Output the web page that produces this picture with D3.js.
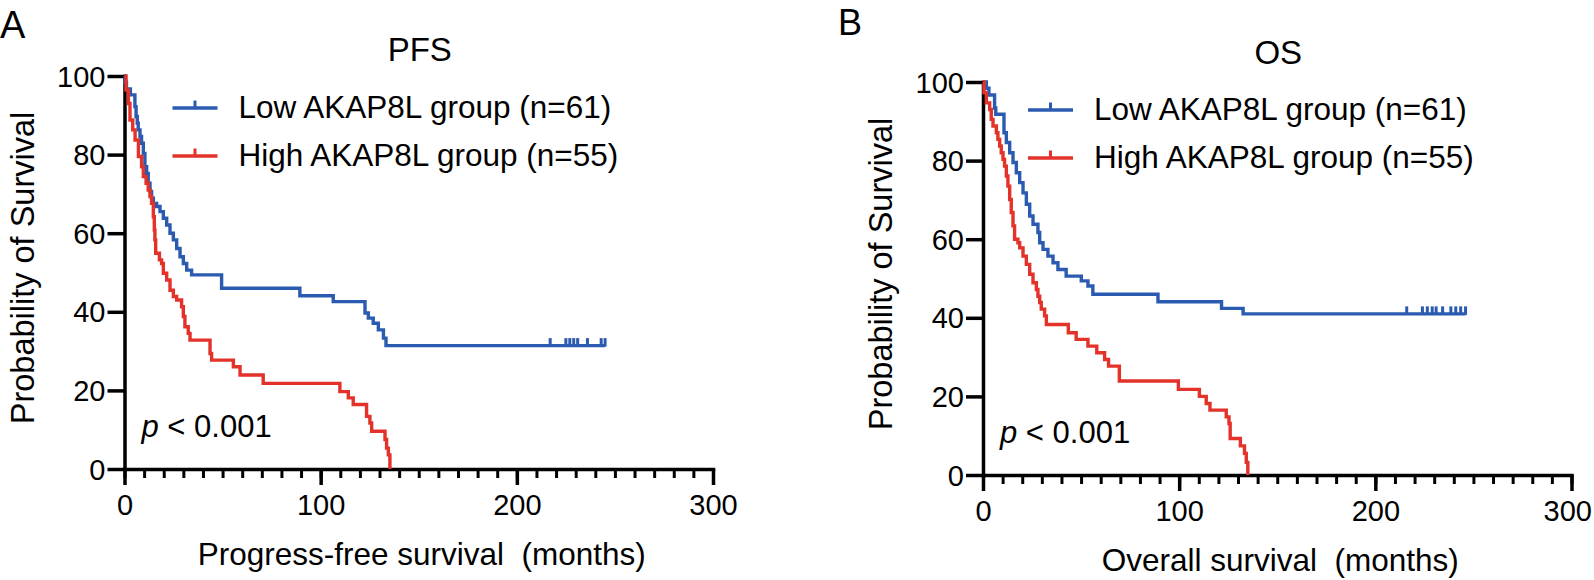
<!DOCTYPE html>
<html><head><meta charset="utf-8">
<script src="https://cdn.jsdelivr.net/npm/d3@7"></script>
<style>
body{margin:0;background:#fff}
svg{display:block}
text{font-family:"Liberation Sans",Arial,Helvetica,sans-serif;fill:#000;white-space:pre}
</style>
</head><body>
<svg id="chart" width="1594" height="580"></svg>
<script>
// ---------- data (months, % survival) ----------
const xTicks = [0, 100, 200, 300];
const yTicks = [0, 20, 40, 60, 80, 100];
const seriesNames = ["Low AKAP8L group (n=61)", "High AKAP8L group (n=55)"];
const pValueText = "< 0.001";

// PFS, low group
const pfsLowTimes = [0, 0.3, 1.0, 3.0, 5.3, 5.9, 6.5, 7.0, 7.9, 8.7, 9.6, 10.4, 11.3, 12.1, 13.0, 13.8, 14.7, 16.4, 18.1, 19.8, 21.5, 23.2, 24.9, 26.6, 28.3, 30.0, 31.7, 34.2, 49.5, 89.4, 106.4, 122.6, 124.3, 126.8, 129.4, 132.0, 133.3];
const pfsLowSurv  = [100, 98.4, 96.7, 95.2, 92.2, 89.7, 88.0, 86.3, 84.6, 82.9, 80.3, 76.9, 75.2, 72.7, 70.6, 68.9, 67.6, 66.8, 65.5, 63.8, 62.1, 60.0, 58.3, 56.1, 54.0, 52.3, 50.6, 49.4, 46.0, 44.1, 42.6, 39.7, 38.4, 37.1, 35.4, 33.3, 31.4];
const pfsLowCensor = [217, 225, 227, 229, 231, 236, 243, 245];

// PFS, high group
const pfsHighTimes = [0, 0.8, 2.0, 2.8, 4.2, 5.4, 7.1, 8.7, 9.6, 11.0, 12.1, 13.0, 13.8, 14.7, 15.2, 15.5, 15.9, 17.8, 18.9, 19.8, 21.5, 23.2, 24.9, 26.6, 29.1, 30.0, 30.8, 32.5, 33.4, 43.6, 44.4, 55.5, 58.9, 70.7, 109.8, 114.1, 116.6, 123.4, 125.1, 126.0, 132.8, 133.6, 134.5, 135.3];
const pfsHighSurv  = [100, 96.4, 93.0, 88.8, 86.3, 83.7, 79.5, 76.9, 74.4, 72.7, 71.0, 69.3, 67.6, 64.2, 60.8, 58.3, 54.9, 53.2, 52.3, 49.8, 48.1, 45.5, 43.9, 43.0, 41.3, 38.8, 36.2, 34.5, 32.8, 29.4, 27.7, 26.0, 23.9, 21.8, 19.7, 18.1, 16.4, 13.4, 11.7, 9.6, 7.5, 5.3, 3.6, 0];
const pfsHighCensor = [];

// OS, low group
const osLowTimes = [0, 1.7, 3.0, 5.9, 6.5, 10.7, 11.9, 13.6, 15.3, 17.0, 18.7, 20.4, 22.1, 23.8, 25.5, 28.0, 28.9, 30.6, 33.1, 35.7, 38.2, 42.4, 50.1, 53.5, 56.0, 89.2, 121.6, 132.6];
const osLowSurv  = [100, 98.4, 96.7, 93.4, 91.8, 87.1, 84.6, 82.0, 79.5, 76.9, 74.4, 71.8, 68.9, 65.9, 63.8, 61.7, 59.1, 57.4, 55.7, 54.0, 52.3, 50.6, 49.4, 48.1, 46.0, 44.1, 42.4, 41.0];
const osLowCensor = [216, 224, 226.5, 229, 231, 234.3, 238.5, 241, 243.5, 246];

// OS, high group
const osHighTimes = [0, 0.5, 1.7, 3.4, 4.2, 5.1, 6.8, 7.6, 8.5, 9.3, 10.2, 11.0, 11.9, 12.7, 13.6, 14.4, 15.3, 16.1, 17.8, 18.7, 20.4, 22.1, 23.8, 25.5, 27.2, 28.0, 28.9, 29.7, 31.4, 32.3, 43.5, 47.5, 53.5, 58.0, 62.0, 64.0, 69.5, 99.6, 110.3, 113.8, 115.7, 124.0, 125.4, 126.0, 131.2, 133.3, 134.2, 135.0];
const osHighSurv  = [100, 97.3, 94.7, 93.0, 90.5, 88.8, 87.1, 85.4, 83.7, 82.0, 80.3, 78.6, 76.1, 73.5, 70.1, 66.8, 63.4, 60.0, 59.1, 57.8, 55.7, 53.6, 51.1, 48.9, 47.2, 45.5, 43.9, 42.2, 40.5, 38.3, 36.2, 34.5, 32.8, 31.1, 29.4, 27.7, 23.9, 21.8, 20.0, 18.2, 16.5, 14.8, 13.1, 9.3, 7.4, 5.5, 3.2, 0];
const osHighCensor = [];

// ---------- drawing ----------
const BLUE = "#2b5bb1", RED = "#e3322a";
const FONT_TICK = 29, FONT_LEG = 31.5, FONT_TITLE = 31.5, FONT_YTITLE = 32.5;
const svg = d3.select("#chart");

function panel(cfg) {
  const g = svg.append("g");
  const x = d3.scaleLinear().domain([0, 300]).range([cfg.x0, cfg.x1]);
  const y = d3.scaleLinear().domain([0, 100]).range([cfg.y0, cfg.y1]);

  // minor x ticks
  const minor = g.append("g").attr("transform", `translate(0,${cfg.y0})`)
    .call(d3.axisBottom(x).tickValues(d3.range(0, 301, 10)).tickSize(9).tickSizeOuter(0).tickFormat(""));
  minor.select(".domain").remove();
  minor.selectAll(".tick line").attr("stroke", "#000").attr("stroke-width", 3);

  // major x axis
  const xa = g.append("g").attr("transform", `translate(0,${cfg.y0})`)
    .call(d3.axisBottom(x).tickValues(xTicks).tickSize(16).tickSizeOuter(0).tickPadding(9));
  xa.select(".domain").attr("stroke", "#000").attr("stroke-width", 3.5).attr("stroke-linecap", "square");
  xa.selectAll(".tick line").attr("stroke", "#000").attr("stroke-width", 3.5);
  xa.selectAll(".tick text").attr("font-size", FONT_TICK).attr("font-family", null);
  xa.attr("font-family", null).attr("font-size", null);
  // keep the last label inside the canvas
  xa.selectAll(".tick text").each(function () {
    const bb = this.getBBox();
    const tr = this.parentNode.getCTM();
    const right = tr.e + bb.x + bb.width;
    if (right > 1592) d3.select(this).attr("x", 1592 - right);
  });

  // y axis
  const ya = g.append("g").attr("transform", `translate(${cfg.x0},0)`)
    .call(d3.axisLeft(y).tickValues(yTicks).tickSize(17).tickSizeOuter(0).tickPadding(2));
  ya.select(".domain").attr("stroke", "#000").attr("stroke-width", 3.5).attr("stroke-linecap", "square");
  ya.selectAll(".tick line").attr("stroke", "#000").attr("stroke-width", 3.5);
  ya.selectAll(".tick text").attr("font-size", FONT_TICK).attr("dy", "0.35em");
  ya.attr("font-family", null).attr("font-size", null);

  // curves
  const line = d3.line().x(d => x(d[0])).y(d => y(d[1])).curve(d3.curveStepAfter);
  cfg.series.forEach(s => {
    const pts = s.times.map((t, i) => [t, s.surv[i]]);
    const end = s.censor.length ? d3.max(s.censor) : s.times[s.times.length - 1];
    if (end > s.times[s.times.length - 1]) pts.push([end, s.surv[s.surv.length - 1]]);
    g.append("path").attr("d", line(pts)).attr("fill", "none")
      .attr("stroke", s.color).attr("stroke-width", 3.4).attr("stroke-linejoin", "miter").attr("stroke-linecap", "butt");
    s.censor.forEach(c => {
      const idx = d3.bisectRight(s.times, c) - 1;
      const v = s.surv[idx];
      g.append("line").attr("x1", x(c)).attr("x2", x(c))
        .attr("y1", y(v) + 1).attr("y2", y(v) - 7.5)
        .attr("stroke", s.color).attr("stroke-width", 3);
    });
  });

  // legend
  cfg.series.forEach((s, i) => {
    const ly = cfg.legY + i * 48;
    g.append("line").attr("x1", cfg.legX).attr("x2", cfg.legX + 45).attr("y1", ly).attr("y2", ly)
      .attr("stroke", s.color).attr("stroke-width", 3.4);
    g.append("line").attr("x1", cfg.legX + 22.5).attr("x2", cfg.legX + 22.5).attr("y1", ly).attr("y2", ly - 7.5)
      .attr("stroke", s.color).attr("stroke-width", 3);
    g.append("text").attr("x", cfg.legX + 66).attr("y", ly + 10).attr("font-size", FONT_LEG).text(s.name);
  });

  // p value
  const pt = g.append("text").attr("x", cfg.x0 + 17).attr("y", cfg.y0 - 32).attr("font-size", 31);
  pt.append("tspan").attr("font-style", "italic").text("p");
  pt.append("tspan").text(" " + pValueText);

  // titles
  g.append("text").attr("x", (cfg.x0 + cfg.x1) / 2 + 1).attr("y", cfg.titleY)
    .attr("text-anchor", "middle").attr("font-size", 33).text(cfg.title);
  g.append("text").attr("x", (cfg.x0 + cfg.x1) / 2 + 3).attr("y", cfg.y0 + 96)
    .attr("text-anchor", "middle").attr("font-size", FONT_TITLE).text(cfg.xLabel);
  g.append("text").attr("transform", `translate(${cfg.x0 - 91},${cfg.y0 - 201}) rotate(-90)`)
    .attr("text-anchor", "middle").attr("font-size", FONT_YTITLE).text("Probability of Survival");
  g.append("text").attr("x", cfg.letterX).attr("y", cfg.letterY).attr("font-size", cfg.letterSize).text(cfg.letter);
}

panel({
  x0: 124.5, x1: 713, y0: 469, y1: 76, legX: 172.5, legY: 108, titleY: 61,
  title: "PFS", xLabel: "Progress-free survival  (months)", letter: "A", letterX: 0, letterY: 38, letterSize: 38,
  series: [
    {name: seriesNames[0], times: pfsLowTimes, surv: pfsLowSurv, censor: pfsLowCensor, color: BLUE},
    {name: seriesNames[1], times: pfsHighTimes, surv: pfsHighSurv, censor: pfsHighCensor, color: RED}
  ]
});
panel({
  x0: 983, x1: 1571.5, y0: 475, y1: 82, legX: 1028, legY: 110, titleY: 64,
  title: "OS", xLabel: "Overall survival  (months)", letter: "B", letterX: 838, letterY: 35, letterSize: 36,
  series: [
    {name: seriesNames[0], times: osLowTimes, surv: osLowSurv, censor: osLowCensor, color: BLUE},
    {name: seriesNames[1], times: osHighTimes, surv: osHighSurv, censor: osHighCensor, color: RED}
  ]
});
</script>
</body></html>
